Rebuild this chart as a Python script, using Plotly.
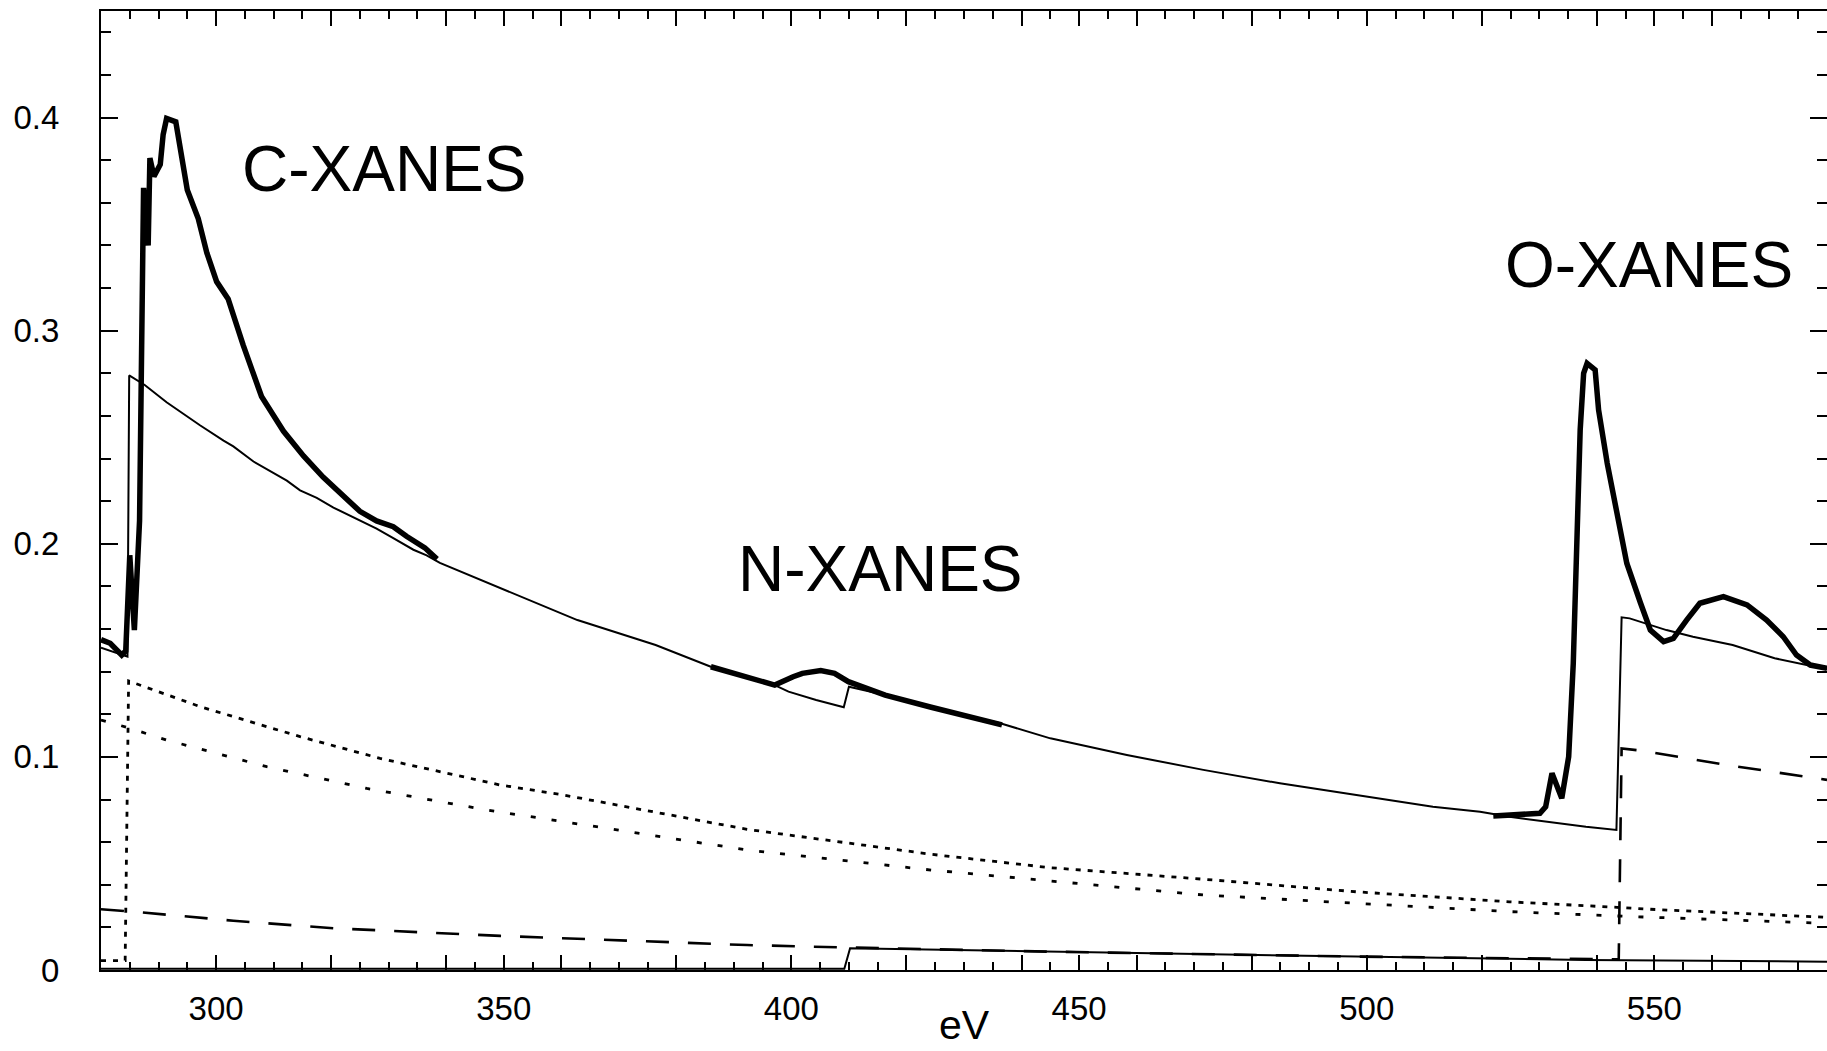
import plotly.graph_objects as go

# ---------------- data ----------------
# experimental spectrum, three measured windows (thick line)
E_exp_C = [280.0, 281.6, 283.6, 284.3, 285.0, 285.8, 286.7, 287.1, 287.4, 288.2, 288.5,
           289.2, 290.3, 290.8, 291.4, 293.0, 293.7, 295.0, 296.9, 298.4, 300.1, 302.1,
           304.7, 307.9, 311.7, 315.2, 318.6, 322.1, 325.0, 327.9, 330.8, 333.1, 336.3, 338.4]
mu_exp_C = [0.155, 0.1533, 0.1478, 0.1497, 0.1946, 0.1595, 0.2107, 0.340, 0.367, 0.340, 0.381,
            0.3724, 0.378, 0.392, 0.3996, 0.398, 0.3867, 0.366, 0.3526, 0.3365, 0.323, 0.3149,
            0.2933, 0.2691, 0.2529, 0.2412, 0.2313, 0.2224, 0.2152, 0.2107, 0.208, 0.2035, 0.1981, 0.1928]

E_exp_N = [386.0, 391.5, 397.1, 400.3, 401.9, 405.1, 407.5, 409.9, 416.3, 424.3, 436.6]
mu_exp_N = [0.1423, 0.1379, 0.1337, 0.1376, 0.1392, 0.1405, 0.1392, 0.1353, 0.129, 0.1233, 0.115]

E_exp_O = [522.0, 530.1, 531.1, 532.2, 533.9, 535.1, 535.9, 536.6, 537.1, 537.7, 538.3, 539.7,
           540.3, 541.8, 543.5, 545.2, 547.6, 549.3, 551.6, 553.3, 555.6, 557.9, 562.0, 566.1,
           569.5, 572.4, 574.7, 577.1, 580.0]
mu_exp_O = [0.0723, 0.0735, 0.0766, 0.0923, 0.0806, 0.1001, 0.144, 0.2065, 0.2534, 0.280, 0.2847,
            0.2816, 0.2628, 0.2378, 0.2127, 0.1909, 0.1721, 0.1595, 0.1541, 0.1556, 0.1642, 0.1721,
            0.1752, 0.1713, 0.1642, 0.1564, 0.1478, 0.1431, 0.1416]

# model total (thin solid)
E_total = [280.0, 284.6, 284.9, 287.6, 291.4, 295.2, 297.2, 301.3, 303.0, 306.5, 308.8, 312.3,
           314.6, 317.5, 320.4, 323.9, 327.9, 330.8, 334.3, 336.6, 338.9, 362.8, 376.4, 386.0,
           397.1, 399.5, 404.3, 409.1, 410.0, 416.3, 424.3, 436.3, 445.0, 458.3, 471.6, 484.9,
           498.2, 511.5, 519.7, 524.8, 538.1, 543.4, 544.3, 545.7, 552.1, 556.7, 563.6, 570.9, 580.0]
mu_total = [0.1512, 0.1470, 0.2790, 0.2745, 0.2664, 0.2592, 0.2556, 0.2484, 0.2457, 0.2386, 0.2350,
            0.2296, 0.2251, 0.2215, 0.2170, 0.2125, 0.2071, 0.2026, 0.1972, 0.1946, 0.1910, 0.1642,
            0.1525, 0.1423, 0.1337, 0.1306, 0.1267, 0.1233, 0.1329, 0.1290, 0.1233, 0.1158, 0.1087,
            0.1009, 0.0939, 0.0876, 0.0821, 0.0766, 0.0743, 0.0719, 0.0672, 0.0657, 0.1655, 0.1650,
            0.1595, 0.1564, 0.1525, 0.1463, 0.1411]

# carbon contribution (fine dotted)
E_C = [280.0, 284.2, 284.8, 297.2, 314.6, 328.5, 349.4, 360.4, 392.3, 424.3, 445.0, 471.6,
       498.2, 524.8, 543.5, 549.3, 580.0]
mu_C = [0.0044, 0.0044, 0.1356, 0.1236, 0.1095, 0.0993, 0.0868, 0.0821, 0.0660, 0.0543, 0.0480,
        0.0426, 0.0367, 0.0320, 0.0294, 0.0285, 0.0247]

# other background contribution (sparse dotted)
E_H = [280.0, 284.7, 291.4, 308.8, 326.2, 347.0, 360.4, 392.3, 424.3, 447.0, 471.6, 498.2,
       524.8, 546.7, 580.0]
mu_H = [0.1173, 0.1137, 0.1079, 0.0954, 0.0852, 0.0751, 0.0696, 0.0563, 0.0469, 0.0414, 0.0352,
        0.0313, 0.0274, 0.0250, 0.0219]

# oxygen contribution (dashed)
E_O = [280.0, 286.8, 303.0, 320.4, 349.4, 360.4, 392.3, 409.1, 445.0, 498.2, 538.1, 543.8,
       544.3, 547.8, 562.6, 580.0]
mu_O = [0.0285, 0.0271, 0.0231, 0.0196, 0.0160, 0.0149, 0.0117, 0.0106, 0.0086, 0.0063, 0.0052,
        0.0050, 0.1040, 0.1029, 0.0962, 0.0892]

# nitrogen contribution (thin solid near zero)
E_N = [280.0, 409.2, 410.2, 445.0, 498.2, 538.1, 580.0]
mu_N = [0.0006, 0.0006, 0.0102, 0.0086, 0.0063, 0.0047, 0.0039]

x_label_vals = [300, 350, 400, 450, 500, 550]
y_label_vals = [0, 0.1, 0.2, 0.3, 0.4]
y_label_text = ["0", "0.1", "0.2", "0.3", "0.4"]
x_title = "eV"

labels = [("C-XANES", 304.2, 0.376), ("N-XANES", 390.4, 0.188), ("O-XANES", 523.7, 0.331)]

# ---------------- figure ----------------
FONT = "Liberation Sans, Arial, Helvetica, sans-serif"
fig = go.Figure()


def line(x, y, width, dash="solid"):
    fig.add_trace(go.Scatter(x=x, y=y, mode="lines", showlegend=False, hoverinfo="skip",
                             line=dict(color="black", width=width, dash=dash)))


line(E_N, mu_N, 2)
line(E_O, mu_O, 2.6, "23px,19px")
line(E_H, mu_H, 2.8, "5px,16px")
line(E_C, mu_C, 2.8, "5px,7px")
line(E_total, mu_total, 2)
line(E_exp_C, mu_exp_C, 5.5)
line(E_exp_N, mu_exp_N, 5.5)
line(E_exp_O, mu_exp_O, 5.5)

# empty trace for the overlay axis carrying the 20 eV ticks
fig.add_trace(go.Scatter(x=[], y=[], xaxis="x2", yaxis="y", showlegend=False))

for text, xv, yv in labels:
    fig.add_annotation(x=xv, y=yv, text=text, showarrow=False, xanchor="left", yanchor="middle",
                       font=dict(family=FONT, size=64, color="black"))

# x-axis title placed below the tick labels
fig.add_annotation(x=0.5, y=-0.0574, xref="paper", yref="paper", text=x_title, showarrow=False,
                   xanchor="center", yanchor="middle", borderpad=0,
                   font=dict(family=FONT, size=41, color="black"))

tick_common = dict(ticks="inside", tickcolor="black", tickwidth=1.5, showgrid=False,
                   zeroline=False, mirror="ticks", automargin=False)

fig.update_layout(
    width=1827, height=1051,
    margin=dict(l=101, r=0, t=11, b=81),
    paper_bgcolor="white", plot_bgcolor="white",
    font=dict(family=FONT, size=33, color="black"),
    showlegend=False,
    xaxis=dict(range=[280, 580], tickmode="array", tickvals=x_label_vals,
               ticklen=15, showline=True, linewidth=2, linecolor="black",
               ticklabelstandoff=8,
               minor=dict(dtick=5, tick0=0, ticks="inside", ticklen=8, tickwidth=1.5,
                          tickcolor="black"),
               **tick_common),
    xaxis2=dict(range=[280, 580], overlaying="x", anchor="y", side="bottom",
                tickmode="linear", tick0=0, dtick=20, ticklen=15, showticklabels=False,
                showline=False, **tick_common),
    yaxis=dict(range=[0, 0.45], tickmode="array", tickvals=y_label_vals, ticktext=y_label_text,
               ticklen=17, showline=True, linewidth=2, linecolor="black",
               ticklabelstandoff=33,
               minor=dict(dtick=0.02, tick0=0, ticks="inside", ticklen=10, tickwidth=1.5,
                          tickcolor="black"),
               **tick_common),
)

fig.write_html("out.html", config={"displayModeBar": False},
               post_script="document.body.style.margin='0';document.body.style.overflow='hidden';")
